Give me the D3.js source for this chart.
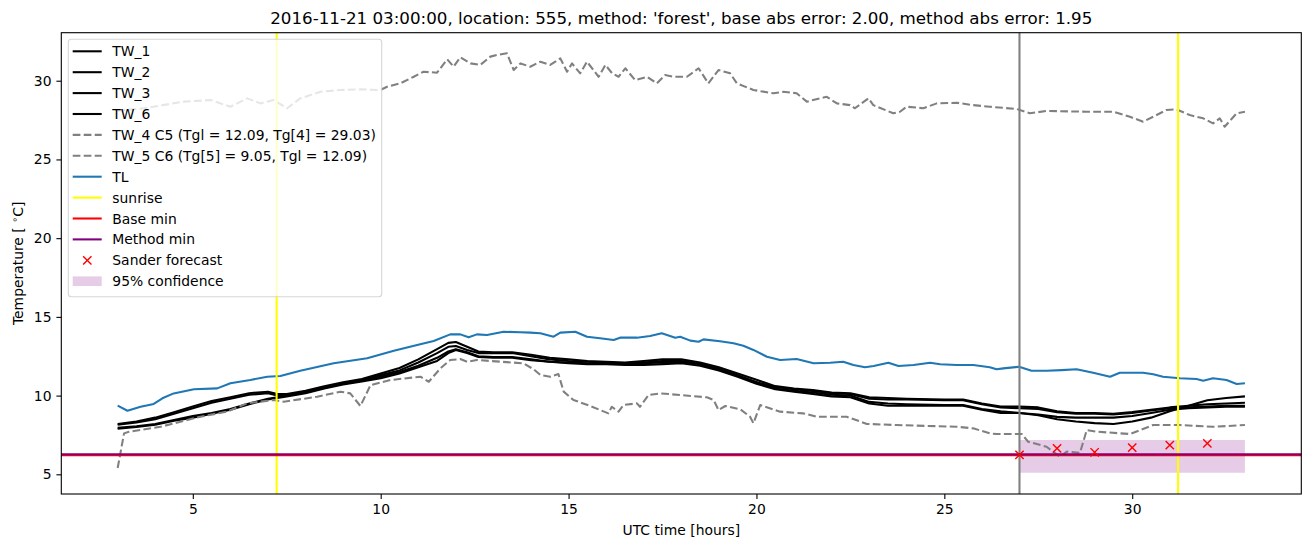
<!DOCTYPE html>
<html>
<head>
<meta charset="utf-8">
<script src="https://cdn.jsdelivr.net/npm/d3@7"></script>
<style>
  body { margin: 0; background: #fff; }
  text { font-family: "DejaVu Sans", sans-serif; }
</style>
</head>
<body>
<svg id="chart"></svg>
<script>
const width = 1310;
const height = 547;

// road temperature sensors, [hour, value]
const tw1 = [[3,8.2],[3.5,8.35],[4,8.6],[4.5,8.95],[5,9.3],[5.5,9.65],[6,9.9],[6.5,10.15],[7,10.25],[7.25,10.1],[7.5,10.1],[8,10.3],[8.5,10.6],[9,10.85],[9.5,11.05],[10,11.4],[10.5,11.75],[11,12.3],[11.5,12.95],[11.8,13.35],[12,13.4],[12.3,13.1],[12.6,12.8],[13,12.75],[13.5,12.75],[14,12.6],[14.5,12.4],[15,12.3],[15.5,12.2],[16,12.15],[16.5,12.1],[17,12.2],[17.5,12.3],[18,12.3],[18.5,12.1],[19,11.8],[19.5,11.4],[20,11.0],[20.5,10.6],[21,10.45],[21.5,10.35],[22,10.2],[22.5,10.15],[23,9.9],[23.5,9.85],[24,9.8],[25,9.75],[25.5,9.75],[26,9.5],[26.5,9.3],[27,9.3],[27.5,9.25],[28,9.0],[28.5,8.9],[29,8.9],[29.5,8.85],[30,8.95],[30.5,9.1],[31,9.25],[31.5,9.35],[32,9.45],[32.5,9.5],[33,9.55]];
const tw2 = [[3,8.15],[3.5,8.3],[4,8.5],[4.5,8.85],[5,9.2],[5.5,9.55],[6,9.8],[6.5,10.05],[7,10.15],[7.25,10.0],[7.5,10.05],[8,10.25],[8.5,10.5],[9,10.8],[9.5,11.0],[10,11.3],[10.5,11.6],[11,12.1],[11.5,12.7],[11.8,13.1],[12,13.15],[12.3,12.9],[12.6,12.7],[13,12.7],[13.5,12.7],[14,12.5],[14.5,12.3],[15,12.2],[15.5,12.15],[16,12.1],[16.5,12.0],[17,12.05],[17.5,12.1],[18,12.15],[18.5,12.0],[19,11.7],[19.5,11.3],[20,10.85],[20.5,10.55],[21,10.4],[21.5,10.3],[22,10.15],[22.5,10.1],[23,9.8],[23.5,9.75],[24,9.75],[25,9.7],[25.5,9.7],[26,9.45],[26.5,9.25],[27,9.2],[27.5,9.15],[28,8.95],[28.5,8.85],[29,8.85],[29.5,8.8],[30,8.9],[30.5,9.05],[31,9.2],[31.5,9.25],[32,9.3],[32.5,9.35],[33,9.35]];
const tw3 = [[3,7.95],[3.5,8.05],[4,8.2],[4.5,8.45],[5,8.7],[5.5,8.9],[6,9.15],[6.5,9.5],[7,9.8],[7.25,9.9],[7.5,10.0],[8,10.2],[8.5,10.5],[9,10.75],[9.5,10.95],[10,11.2],[10.5,11.5],[11,11.9],[11.5,12.4],[11.8,12.8],[12,12.95],[12.3,12.75],[12.6,12.5],[13,12.45],[13.5,12.45],[14,12.3],[14.5,12.15],[15,12.1],[15.5,12.05],[16,12.1],[16.5,12.05],[17,12.1],[17.5,12.2],[18,12.2],[18.5,12.0],[19,11.65],[19.5,11.25],[20,10.85],[20.5,10.45],[21,10.3],[21.5,10.2],[22,10.05],[22.5,10.0],[23,9.6],[23.5,9.5],[24,9.45],[25,9.4],[25.5,9.4],[26,9.15],[26.5,9.0],[27,8.9],[27.5,8.75],[28,8.5],[28.5,8.35],[29,8.25],[29.5,8.2],[30,8.35],[30.5,8.6],[31,9.0],[31.5,9.35],[32,9.7],[32.5,9.85],[33,9.95]];
const tw6 = [[3,7.9],[3.5,8.0],[4,8.15],[4.5,8.4],[5,8.6],[5.5,8.85],[6,9.1],[6.5,9.45],[7,9.75],[7.25,9.85],[7.5,9.95],[8,10.15],[8.5,10.45],[9,10.7],[9.5,10.9],[10,11.1],[10.5,11.4],[11,11.8],[11.5,12.2],[11.8,12.7],[12,12.9],[12.3,12.7],[12.6,12.45],[13,12.4],[13.5,12.4],[14,12.25],[14.5,12.15],[15,12.05],[15.5,12.0],[16,12.0],[16.5,11.95],[17,11.95],[17.5,12.0],[18,12.05],[18.5,11.9],[19,11.6],[19.5,11.2],[20,10.75],[20.5,10.4],[21,10.25],[21.5,10.1],[22,9.95],[22.5,9.9],[23,9.5],[23.5,9.35],[24,9.35],[25,9.35],[25.5,9.35],[26,9.1],[26.5,8.9],[27,8.9],[27.5,8.8],[28,8.65],[28.5,8.6],[29,8.6],[29.5,8.6],[30,8.7],[30.5,8.9],[31,9.1],[31.5,9.2],[32,9.25],[32.5,9.3],[33,9.3]];
const tw4 = [[3,28.1],[3.7,28.25],[4.76,28.67],[5.47,28.77],[6,28.35],[6.45,28.88],[6.8,28.56],[7.15,28.77],[7.51,28.25],[7.86,28.88],[8.4,29.3],[8.93,29.41],[9.46,29.45],[9.99,29.41],[10.17,29.62],[10.52,29.83],[10.88,30.25],[11.14,30.57],[11.5,30.51],[11.77,31.36],[11.94,30.89],[12.12,31.49],[12.39,31.1],[12.65,31.0],[12.92,31.53],[13.1,31.64],[13.36,31.74],[13.54,30.68],[13.72,31.1],[13.98,30.89],[14.25,31.21],[14.51,31.0],[14.78,31.42],[14.96,30.57],[15.09,31.1],[15.31,30.47],[15.49,31.21],[15.8,30.25],[15.98,31.0],[16.16,30.47],[16.33,30.25],[16.51,30.79],[16.77,30.04],[17.09,30.25],[17.35,29.83],[17.57,30.36],[17.79,30.25],[18.15,30.25],[18.46,30.79],[18.72,29.83],[18.99,30.68],[19.3,30.47],[19.48,29.83],[19.92,29.41],[20.45,29.2],[20.72,29.3],[21.07,29.2],[21.34,28.67],[21.69,28.88],[21.87,28.98],[22.14,28.56],[22.49,28.45],[22.62,28.25],[22.98,28.88],[23.11,28.45],[23.64,27.93],[23.82,28.03],[24.0,28.35],[24.44,28.25],[24.8,28.56],[25.33,28.6],[25.77,28.45],[26.21,28.35],[26.93,28.2],[27.28,27.93],[27.72,28.08],[28.79,28.03],[29.49,28.03],[29.94,27.71],[30.29,27.4],[30.65,27.82],[30.91,28.14],[31.18,28.18],[31.53,27.82],[31.89,27.61],[32.15,27.29],[32.33,27.61],[32.46,27.08],[32.78,27.93],[33,28.03]];
const tw5 = [[3,5.4],[3.17,7.6],[3.3,7.7],[4.14,8.02],[5.2,8.66],[5.91,8.98],[6.45,9.51],[7.15,9.72],[7.42,9.61],[8.31,9.93],[8.93,10.25],[9.19,10.14],[9.46,9.34],[9.73,10.67],[10.26,10.99],[11.06,11.2],[11.28,10.88],[11.59,11.73],[11.85,12.26],[12.12,12.32],[12.3,12.15],[12.56,12.26],[13.8,12.05],[14.07,11.67],[14.25,11.31],[14.51,11.2],[14.73,11.37],[14.87,10.25],[15.13,9.72],[15.58,9.34],[16.06,8.87],[16.15,9.29],[16.33,8.98],[16.46,9.4],[16.82,9.51],[16.9,9.29],[17.13,10.04],[17.44,10.14],[17.97,10.04],[18.68,9.89],[18.86,9.72],[18.99,9.08],[19.17,9.34],[19.57,9.13],[19.83,8.66],[19.92,8.24],[20.1,9.4],[20.63,8.98],[21.25,8.87],[21.6,8.66],[22.4,8.66],[22.94,8.2],[23.73,8.13],[25.33,8.02],[25.77,7.92],[26.21,7.6],[26.39,7.56],[27.06,7.56],[27.23,7.07],[27.72,6.75],[28.08,6.12],[28.26,6.44],[28.61,6.37],[28.79,7.81],[29.05,7.71],[29.94,7.56],[30.56,8.13],[31.27,8.13],[32.15,8.02],[33,8.13]];
// air temperature
const tl = [[3,9.36],[3.26,9.04],[3.61,9.29],[3.96,9.47],[4.19,9.83],[4.49,10.14],[5.03,10.4],[5.65,10.46],[6,10.78],[6.53,10.99],[6.98,11.2],[7.33,11.24],[7.86,11.58],[8.75,12.05],[9.64,12.37],[10.35,12.85],[10.97,13.21],[11.41,13.47],[11.85,13.89],[12.12,13.89],[12.34,13.7],[12.56,13.89],[12.83,13.85],[13.27,14.06],[13.72,14.02],[13.98,14.0],[14.25,13.96],[14.6,13.74],[14.78,14.0],[15.18,14.06],[15.49,13.74],[15.84,13.64],[16.2,13.53],[16.37,13.68],[16.82,13.68],[17.17,13.78],[17.48,13.96],[17.84,13.68],[17.97,13.74],[18.24,13.49],[18.46,13.42],[18.59,13.57],[19.03,13.45],[19.39,13.32],[19.65,13.17],[19.92,12.9],[20.28,12.47],[20.63,12.26],[21.07,12.32],[21.52,12.05],[21.96,12.09],[22.31,12.15],[22.58,11.94],[22.89,11.8],[23.12,11.88],[23.51,12.09],[23.78,11.88],[24.18,11.94],[24.62,12.09],[24.89,11.99],[25.33,11.94],[25.77,11.94],[26.21,11.8],[26.39,11.67],[26.57,11.73],[26.99,11.83],[27.32,11.58],[27.72,11.58],[28.12,11.62],[28.52,11.67],[28.96,11.45],[29.41,11.2],[29.67,11.45],[30.29,11.45],[30.56,11.35],[30.82,11.2],[31.27,11.1],[31.71,11.05],[31.89,10.95],[32.15,11.1],[32.51,10.99],[32.78,10.74],[33,10.78]];

const sunriseHours = [7.23, 31.22];
const forecastStart = 27;
const baseMin = 6.22;
const methodMin = 6.27;
const sanderHours = [27, 28, 29, 30, 31, 32];
const sanderValues = [6.24, 6.65, 6.40, 6.69, 6.86, 6.97];
const confHours = [27, 33];
const confLow = [5.10, 5.10];
const confHigh = [7.18, 7.18];

const xTicks = [5, 10, 15, 20, 25, 30];
const yTicks = [5, 10, 15, 20, 25, 30];

const titleText = "2016-11-21 03:00:00, location: 555, method: 'forest', base abs error: 2.00, method abs error: 1.95";

const mLeft = 61.3, mRight = 1301.3, mTop = 32.7, mBottom = 494;

const svg = d3.select("#chart")
    .attr("width", width)
    .attr("height", height);

const x = d3.scaleLinear().domain([1.5, 34.5]).range([mLeft, mRight]);
const y = d3.scaleLinear().domain([3.75, 33.05]).range([mBottom, mTop]);

const line = d3.line().x(d => x(d[0])).y(d => y(d[1]));

// confidence band underneath the lines
const band = confHours.map((h, i) => [h, confLow[i], confHigh[i]]);
svg.append("path")
    .datum(band)
    .attr("d", d3.area().x(d => x(d[0])).y0(d => y(d[1])).y1(d => y(d[2])))
    .attr("fill", "purple")
    .attr("fill-opacity", 0.2);

// series in plotting order
const series = [
  {data: tw1, color: "black"},
  {data: tw2, color: "black"},
  {data: tw3, color: "black"},
  {data: tw6, color: "black"},
  {data: tw4, color: "gray", dash: "7.7,3.3"},
  {data: tw5, color: "gray", dash: "7.7,3.3"},
  {data: tl, color: "#1f77b4"}
];

series.forEach(s => {
  svg.append("path")
      .datum(s.data)
      .attr("d", line)
      .attr("fill", "none")
      .attr("stroke", s.color)
      .attr("stroke-width", 2.08)
      .attr("stroke-linejoin", "round")
      .attr("stroke-dasharray", s.dash || null);
});

// vertical lines
svg.selectAll(".sunrise")
  .data(sunriseHours)
  .join("line")
    .attr("x1", d => x(d)).attr("x2", d => x(d))
    .attr("y1", mTop).attr("y2", mBottom)
    .attr("stroke", "yellow")
    .attr("stroke-width", 2.08);

svg.append("line")
    .attr("x1", x(forecastStart)).attr("x2", x(forecastStart))
    .attr("y1", mTop).attr("y2", mBottom)
    .attr("stroke", "gray")
    .attr("stroke-width", 2.08);

// minimum lines
[[baseMin, "red"], [methodMin, "purple"]].forEach(([v, c]) => {
  svg.append("line")
      .attr("x1", mLeft).attr("x2", mRight)
      .attr("y1", y(v)).attr("y2", y(v))
      .attr("stroke", c)
      .attr("stroke-width", 2.08);
});

// sander forecast crosses
const xMark = (cx, cy, r) => `M${cx - r},${cy - r}L${cx + r},${cy + r}M${cx - r},${cy + r}L${cx + r},${cy - r}`;
svg.append("g")
  .selectAll("path")
  .data(sanderHours)
  .join("path")
    .attr("d", (d, i) => xMark(x(d), y(sanderValues[i]), 4.15))
    .attr("stroke", "red")
    .attr("stroke-width", 1.4)
    .attr("fill", "none");

// axes
const xAxis = svg.append("g")
    .attr("transform", `translate(0,${mBottom})`)
    .call(d3.axisBottom(x).tickValues(xTicks).tickSize(4.9).tickPadding(4.9).tickFormat(d3.format("d")));
const yAxis = svg.append("g")
    .attr("transform", `translate(${mLeft},0)`)
    .call(d3.axisLeft(y).tickValues(yTicks).tickSize(4.9).tickPadding(4.9).tickFormat(d3.format("d")));
[xAxis, yAxis].forEach(a => {
  a.select(".domain").remove();
  a.selectAll(".tick line").attr("stroke", "black").attr("stroke-width", 1.1);
  a.selectAll(".tick text")
      .attr("font-family", "DejaVu Sans")
      .attr("font-size", 13.9)
      .attr("fill", "black");
});

svg.append("rect")
    .attr("x", mLeft).attr("y", mTop)
    .attr("width", mRight - mLeft).attr("height", mBottom - mTop)
    .attr("fill", "none")
    .attr("stroke", "black")
    .attr("stroke-width", 1.1);

// labels
svg.append("text")
    .attr("x", (mLeft + mRight) / 2).attr("y", 24)
    .attr("text-anchor", "middle")
    .attr("font-size", 16.7)
    .text(titleText);

svg.append("text")
    .attr("x", (mLeft + mRight) / 2).attr("y", 535)
    .attr("text-anchor", "middle")
    .attr("font-size", 13.9)
    .text("UTC time [hours]");

const yl = svg.append("text")
    .attr("transform", `translate(23,${(mTop + mBottom) / 2}) rotate(-90)`)
    .attr("text-anchor", "middle")
    .attr("font-size", 13.9);
yl.append("tspan").text("Temperature [ ");
yl.append("tspan").attr("font-size", 9.7).attr("dy", -5).text("\u2218");
yl.append("tspan").attr("dy", 5).text("C]");

// legend
const legendItems = [
  {label: "TW_1", type: "line", color: "black"},
  {label: "TW_2", type: "line", color: "black"},
  {label: "TW_3", type: "line", color: "black"},
  {label: "TW_6", type: "line", color: "black"},
  {label: "TW_4 C5 (Tgl = 12.09, Tg[4] = 29.03)", type: "line", color: "gray", dash: "7.7,3.3"},
  {label: "TW_5 C6 (Tg[5] = 9.05, Tgl = 12.09)", type: "line", color: "gray", dash: "7.7,3.3"},
  {label: "TL", type: "line", color: "#1f77b4"},
  {label: "sunrise", type: "line", color: "yellow"},
  {label: "Base min", type: "line", color: "red"},
  {label: "Method min", type: "line", color: "purple"},
  {label: "Sander forecast", type: "cross", color: "red"},
  {label: "95% confidence", type: "patch", color: "purple"}
];

const legend = svg.append("g");
legend.append("rect")
    .attr("x", 68.3).attr("y", 39.3)
    .attr("width", 313.4).attr("height", 257.4)
    .attr("rx", 3)
    .attr("fill", "white").attr("fill-opacity", 0.8)
    .attr("stroke", "#cccccc").attr("stroke-opacity", 0.8)
    .attr("stroke-width", 1.1);

legendItems.forEach((it, i) => {
  const cy = 51.3 + i * 20.9;
  if (it.type === "line") {
    legend.append("line")
        .attr("x1", 72.7).attr("x2", 101.7)
        .attr("y1", cy).attr("y2", cy)
        .attr("stroke", it.color)
        .attr("stroke-width", 2.08)
        .attr("stroke-dasharray", it.dash || null);
  } else if (it.type === "cross") {
    legend.append("path")
        .attr("d", xMark(87.3, cy, 4.15))
        .attr("stroke", it.color)
        .attr("stroke-width", 1.4);
  } else {
    legend.append("rect")
        .attr("x", 72.7).attr("y", cy - 4.8)
        .attr("width", 29).attr("height", 9.6)
        .attr("fill", it.color).attr("fill-opacity", 0.2);
  }
  legend.append("text")
      .attr("x", 112.3).attr("y", cy)
      .attr("dy", "0.36em")
      .attr("font-size", 13.9)
      .text(it.label);
});
</script>
</body>
</html>
